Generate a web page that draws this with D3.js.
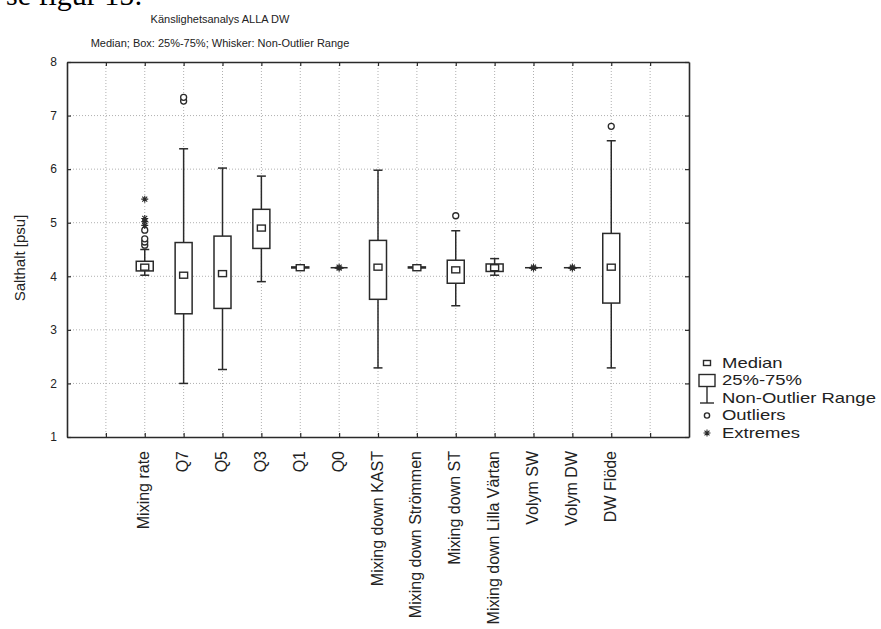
<!DOCTYPE html>
<html>
<head>
<meta charset="utf-8">
<script src="https://cdn.jsdelivr.net/npm/d3@7"></script>
<style>
  body { margin: 0; background: #fff; }
  svg { display: block; }
  text { font-family: "Liberation Sans", Arial, sans-serif; fill: #222; }
</style>
</head>
<body>
<svg id="chart" width="881" height="629"></svg>
<script>
// ---- data ----
const categories = ["Mixing rate", "Q7", "Q5", "Q3", "Q1", "Q0", "Mixing down KAST",
  "Mixing down Strömmen", "Mixing down ST", "Mixing down Lilla Värtan", "Volym SW", "Volym DW", "DW Flöde"];
const medians     = [4.17, 4.02, 4.05, 4.90, 4.16, 4.16, 4.17, 4.16, 4.12, 4.16, 4.16, 4.16, 4.17];
const q1Values    = [4.10, 3.30, 3.40, 4.52, 4.155, 4.16, 3.57, 4.155, 3.87, 4.09, 4.16, 4.16, 3.50];
const q3Values    = [4.28, 4.63, 4.75, 5.25, 4.175, 4.16, 4.67, 4.175, 4.30, 4.23, 4.16, 4.16, 4.80];
const whiskerLow  = [4.02, 2.00, 2.26, 3.90, 4.155, 4.16, 2.29, 4.155, 3.45, 4.02, 4.16, 4.16, 2.29];
const whiskerHigh = [4.50, 6.38, 6.02, 5.87, 4.175, 4.16, 5.98, 4.175, 4.85, 4.33, 4.16, 4.16, 6.53];
const outliers = [[4.58, 4.64, 4.70, 4.86], [7.27, 7.34], [], [], [], [], [], [], [5.13], [], [], [], [6.80]];
const extremes = [[4.95, 5.02, 5.08, 5.44], [], [], [], [], [4.15, 4.17], [], [], [], [], [4.15, 4.17], [4.15, 4.17], []];
const yTicks = [1, 2, 3, 4, 5, 6, 7, 8];
const legendLabels = ["Median", "25%-75%", "Non-Outlier Range", "Outliers", "Extremes"];
const titleText = "Känslighetsanalys ALLA DW";
const subtitleText = "Median; Box: 25%-75%; Whisker: Non-Outlier Range";
const yLabel = "Salthalt [psu]";
const preText = "se figur 15:";

// ---- layout ----
const svg = d3.select("#chart");
const pLeft = 67, pRight = 689, pTop = 62, pBottom = 437;
const dark = "#2a2a2a";

const slots = categories.length + 3; // empty slot each side
const x = d3.scaleLinear().domain([0, slots]).range([pLeft, pRight]);
const xPos = i => x(i + 2);
const y = d3.scaleLinear().domain([1, 8]).range([pBottom, pTop]);

// cut-off text at top
svg.append("text").attr("x", 6).attr("y", 5)
  .style("font-family", "'Liberation Serif', 'Times New Roman', serif")
  .style("font-size", "30px").style("fill", "#000").text(preText);

// titles
svg.append("text").attr("x", 220).attr("y", 23).attr("text-anchor", "middle")
  .style("font-size", "11px").text(titleText);
svg.append("text").attr("x", 220).attr("y", 47).attr("text-anchor", "middle")
  .style("font-size", "11px").text(subtitleText);

// grid
const xGridVals = d3.range(1, slots);
const grid = svg.append("g");
grid.selectAll("line.gx").data(xGridVals).enter().append("line")
  .attr("x1", d => x(d)).attr("x2", d => x(d)).attr("y1", pTop).attr("y2", pBottom)
  .attr("stroke", "#b0b0b0").attr("stroke-width", 1).attr("stroke-dasharray", "1,2");
grid.selectAll("line.gy").data(yTicks.slice(1, -1)).enter().append("line")
  .attr("x1", pLeft).attr("x2", pRight).attr("y1", d => y(d)).attr("y2", d => y(d))
  .attr("stroke", "#b0b0b0").attr("stroke-width", 1).attr("stroke-dasharray", "1,2");

// axes with inward ticks
const axL = svg.append("g").attr("transform", `translate(${pLeft},0)`)
  .call(d3.axisLeft(y).tickValues(yTicks).tickSizeInner(-4).tickSizeOuter(0).tickPadding(10).tickFormat(d3.format("d")));
const axR = svg.append("g").attr("transform", `translate(${pRight},0)`)
  .call(d3.axisRight(y).tickValues(yTicks).tickSizeInner(-4).tickSizeOuter(0).tickFormat(""));
const axT = svg.append("g").attr("transform", `translate(0,${pTop})`)
  .call(d3.axisTop(x).tickValues(xGridVals).tickSizeInner(-4).tickSizeOuter(0).tickFormat(""));
const axB = svg.append("g").attr("transform", `translate(0,${pBottom})`)
  .call(d3.axisBottom(x).tickValues(xGridVals).tickSizeInner(-4).tickSizeOuter(0).tickFormat(""));
[axL, axR, axT, axB].forEach(a => {
  a.selectAll(".domain").attr("stroke", dark).attr("stroke-width", 1.6);
  a.selectAll(".tick line").attr("stroke", dark).attr("stroke-width", 1.2);
});
axL.selectAll(".tick text").style("font-size", "12px").style("fill", "#222")
  .style("font-family", "'Liberation Sans', Arial, sans-serif");

// x category labels
svg.append("g").selectAll("text").data(categories).enter().append("text")
  .attr("transform", (d, i) => `translate(${xPos(i) - 1},${451}) rotate(-90)`)
  .attr("text-anchor", "end").attr("dy", "0.35em")
  .style("font-size", "16px").text(d => d);

// y label
svg.append("text").attr("transform", `translate(20,${258}) rotate(-90)`)
  .attr("text-anchor", "middle").attr("dy", "0.35em")
  .style("font-size", "15px").text(yLabel);

// boxes
const boxW = 17, capW = 9, medW = 8, medH = 6;
const g = svg.append("g").attr("stroke", dark).attr("fill", "none").attr("stroke-width", 1.5);

function star(cx, cy, r) {
  const p = d3.path();
  for (let k = 0; k < 4; k++) {
    const a = Math.PI / 4 * k;
    p.moveTo(cx - r * Math.cos(a), cy - r * Math.sin(a));
    p.lineTo(cx + r * Math.cos(a), cy + r * Math.sin(a));
  }
  return p.toString();
}

categories.forEach((c, i) => {
  const cx = xPos(i);
  g.append("line").attr("x1", cx).attr("x2", cx).attr("y1", y(whiskerLow[i])).attr("y2", y(q1Values[i]));
  g.append("line").attr("x1", cx).attr("x2", cx).attr("y1", y(q3Values[i])).attr("y2", y(whiskerHigh[i]));
  g.append("line").attr("x1", cx - capW / 2).attr("x2", cx + capW / 2).attr("y1", y(whiskerLow[i])).attr("y2", y(whiskerLow[i]));
  g.append("line").attr("x1", cx - capW / 2).attr("x2", cx + capW / 2).attr("y1", y(whiskerHigh[i])).attr("y2", y(whiskerHigh[i]));
  const bh = y(q1Values[i]) - y(q3Values[i]);
  if (bh <= 0) {
    g.append("line").attr("x1", cx - boxW / 2).attr("x2", cx + boxW / 2)
      .attr("y1", y(q1Values[i])).attr("y2", y(q1Values[i]));
  } else {
    g.append("rect").attr("x", cx - boxW / 2).attr("y", y(q3Values[i])).attr("width", boxW)
      .attr("height", bh).attr("fill", "#fff");
    g.append("rect").attr("x", cx - medW / 2).attr("y", y(medians[i]) - medH / 2)
      .attr("width", medW).attr("height", medH).attr("fill", "#fff").attr("stroke-width", 1.4);
  }
  outliers[i].forEach(v => {
    g.append("circle").attr("cx", cx).attr("cy", y(v)).attr("r", 3).attr("fill", "#fff").attr("stroke-width", 1.3);
  });
  extremes[i].forEach(v => {
    g.append("path").attr("d", star(cx, y(v), 3.5)).attr("stroke-width", 1.1);
  });
});

// legend
const lg = svg.append("g");
const lx = 707, ly0 = 363, ldy = 17.5;
const ls = lg.append("g").attr("stroke", dark).attr("fill", "none").attr("stroke-width", 1.4);
ls.append("rect").attr("x", lx - 3.5).attr("y", ly0 - 2.5).attr("width", 7).attr("height", 5);
ls.append("rect").attr("x", lx - 8).attr("y", ly0 + ldy - 6).attr("width", 16).attr("height", 12);
ls.append("line").attr("x1", lx).attr("x2", lx).attr("y1", ly0 + ldy + 6).attr("y2", ly0 + 2 * ldy + 5);
ls.append("line").attr("x1", lx - 7).attr("x2", lx + 7).attr("y1", ly0 + 2 * ldy + 5).attr("y2", ly0 + 2 * ldy + 5);
ls.append("circle").attr("cx", lx).attr("cy", ly0 + 3 * ldy).attr("r", 2.6);
ls.append("path").attr("d", star(lx, ly0 + 4 * ldy, 3.5)).attr("stroke-width", 1.1);
lg.selectAll("text").data(legendLabels).enter().append("text")
  .attr("transform", (d, i) => `translate(722,${ly0 + i * ldy}) scale(1.32,1)`)
  .attr("dy", "0.35em").style("font-size", "14px").text(d => d);
</script>
</body>
</html>
